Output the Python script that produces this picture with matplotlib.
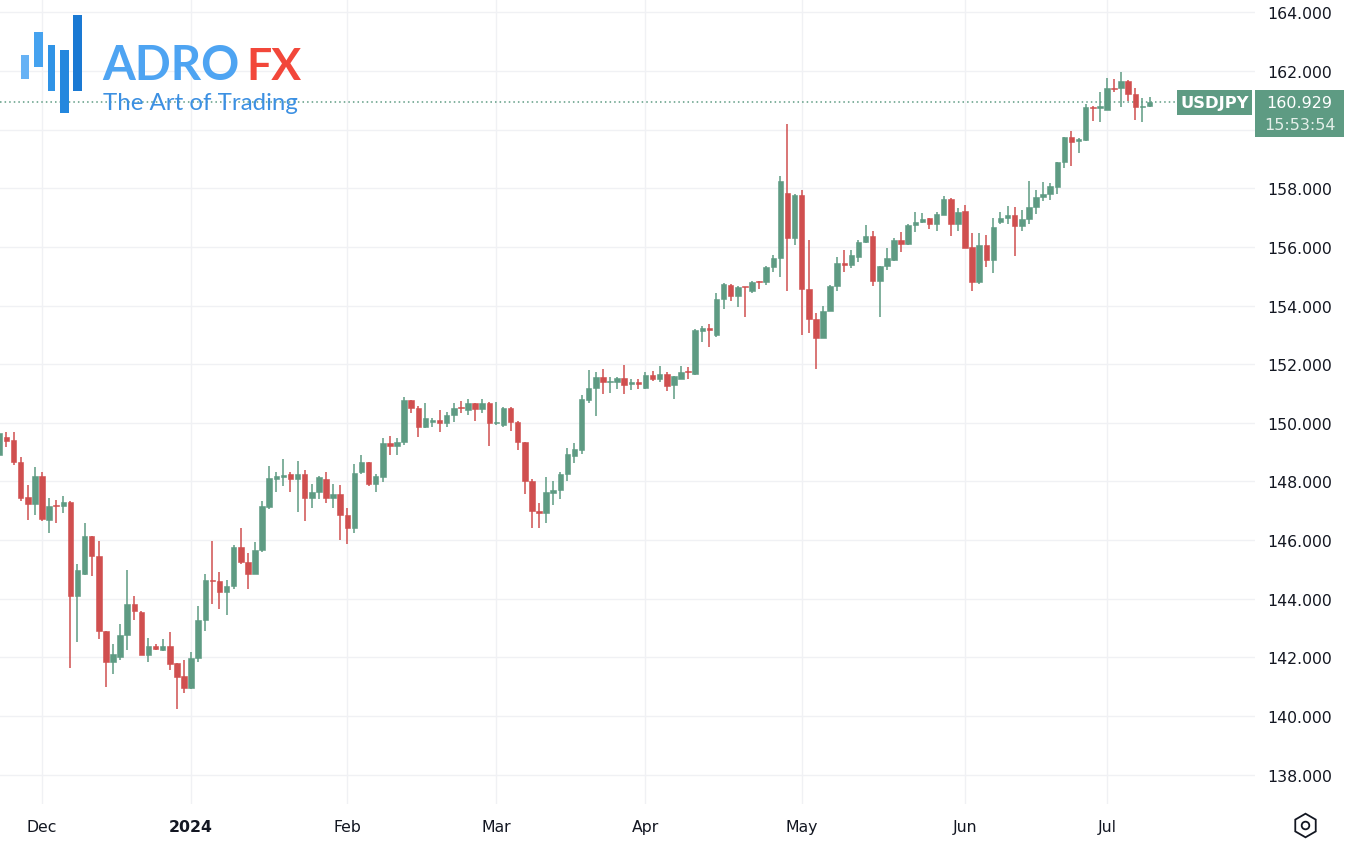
import numpy as np
import pandas as pd
import matplotlib
matplotlib.use("Agg")
import matplotlib.pyplot as plt
from matplotlib.patches import Rectangle
from matplotlib.transforms import blended_transform_factory

# ---------------- data (USDJPY daily) ----------------
dates = [d for d in pd.bdate_range("2023-11-23", "2024-07-09") if d != pd.Timestamp("2024-01-01")]

opens = [148.91, 149.53, 149.42, 148.66, 147.47, 147.23,
         148.17, 146.69, 147.20, 147.15, 147.30, 144.10, 144.85, 146.13, 145.47, 142.89, 141.83,
         142.03, 142.75, 143.82, 143.55, 142.09, 142.38, 142.26, 142.38, 141.81, 141.35,
         140.95, 141.98, 143.28, 144.63, 144.59, 144.23, 144.45, 145.75, 145.24, 144.85, 145.67,
         147.14, 148.10, 148.14, 148.24, 148.07, 148.27, 147.45, 147.63, 148.08, 147.45, 147.59,
         146.85, 146.40, 148.33, 148.65, 147.90, 148.16, 149.30, 149.22, 149.33, 150.77, 150.52,
         149.86, 150.03, 150.09, 150.00, 150.28, 150.55, 150.43, 150.66, 150.47, 150.66,
         149.98, 149.94, 150.52, 150.03, 149.33, 148.02, 147.00, 146.91, 147.60, 147.72, 148.27,
         148.88, 149.08, 150.78, 151.20, 151.58, 151.38, 151.38, 151.52, 151.32, 151.38,
         151.20, 151.63, 151.50, 151.67, 151.28, 151.50, 151.78, 151.67, 153.13, 153.23,
         152.98, 154.23, 154.70, 154.34, 154.65, 154.48, 154.84, 154.80, 155.31, 155.63,
         157.84, 156.30, 157.77, 154.57, 153.55, 152.89, 153.83, 154.66, 155.44, 155.39,
         155.65, 156.18, 156.36, 154.85, 155.36, 155.57, 156.22, 156.10, 156.75, 156.86,
         156.98, 156.78, 157.10, 157.64, 156.78, 157.24, 155.99, 154.82, 156.05, 155.57,
         156.86, 156.98, 157.09, 156.70, 156.95, 157.35, 157.69, 157.80, 158.06, 158.89,
         159.76, 159.60, 159.65, 160.78, 160.75, 160.67, 161.43, 161.41, 161.66, 161.22,
         160.76, 160.82]
highs = [149.70, 149.70, 149.68, 148.82, 147.89, 148.51,
         148.34, 147.43, 147.38, 147.49, 147.32, 145.19, 146.58, 146.15, 145.98, 142.90, 142.45,
         143.15, 144.97, 144.10, 143.57, 142.66, 142.45, 142.64, 142.86, 141.82, 141.91,
         142.20, 143.74, 144.85, 145.98, 144.90, 144.63, 145.82, 146.43, 145.56, 145.93, 147.32,
         148.53, 148.31, 148.78, 148.31, 148.69, 148.39, 147.93, 148.19, 148.31, 147.93, 147.88,
         147.10, 148.58, 148.90, 148.67, 148.27, 149.47, 149.56, 149.47, 150.89, 150.78, 150.58,
         150.66, 150.17, 150.43, 150.38, 150.66, 150.74, 150.83, 150.69, 150.83, 150.72,
         150.72, 150.55, 150.53, 150.05, 149.35, 148.08, 147.28, 148.14, 148.02, 148.33, 149.13,
         149.30, 150.94, 151.80, 151.72, 151.83, 151.58, 151.58, 151.97, 151.51, 151.51,
         151.74, 151.77, 151.93, 151.75, 151.61, 151.93, 151.89, 153.20, 153.30, 153.38,
         154.42, 154.77, 154.74, 154.68, 154.65, 154.85, 154.85, 155.36, 155.73, 158.41,
         160.20, 157.80, 157.95, 156.25, 153.75, 154.00, 154.70, 155.65, 155.91, 155.88,
         156.25, 156.75, 156.55, 155.36, 155.95, 156.30, 156.52, 156.78, 157.18, 157.15,
         156.98, 157.18, 157.72, 157.66, 157.32, 157.43, 156.48, 156.48, 156.41, 156.98,
         157.18, 157.39, 157.35, 157.27, 158.24, 157.95, 158.20, 158.17, 158.89, 159.76,
         159.95, 159.73, 160.86, 160.80, 161.30, 161.77, 161.73, 161.95, 161.68, 161.41,
         161.09, 161.13]
lows = [148.80, 149.19, 148.55, 147.32, 146.69, 146.86,
        146.66, 146.24, 146.58, 146.92, 141.64, 142.51, 144.80, 144.76, 142.64, 140.98, 141.43,
        141.90, 142.25, 143.29, 142.07, 141.86, 142.26, 142.23, 141.56, 140.25, 140.77,
        140.93, 141.86, 142.89, 143.83, 143.66, 143.43, 144.34, 145.20, 144.34, 144.83, 145.60,
        147.06, 147.65, 147.84, 147.63, 146.97, 146.65, 147.08, 147.40, 147.25, 147.11, 146.00,
        145.86, 146.23, 148.24, 147.86, 147.63, 147.97, 148.90, 148.92, 149.24, 150.35, 149.52,
        149.81, 149.86, 149.69, 149.86, 150.03, 150.32, 150.28, 150.07, 150.32, 149.22,
        149.94, 149.86, 149.72, 149.07, 147.56, 146.43, 146.43, 146.60, 147.19, 147.40, 148.02,
        148.63, 148.95, 150.69, 150.24, 150.98, 151.03, 151.17, 151.00, 151.13, 151.15,
        151.17, 151.43, 151.41, 151.08, 150.80, 151.50, 151.51, 151.64, 152.75, 152.58,
        152.94, 153.89, 154.14, 153.94, 153.60, 154.42, 154.55, 154.70, 155.16, 154.97,
        154.51, 156.05, 153.00, 153.07, 151.84, 152.89, 153.80, 154.51, 155.14, 155.27,
        155.50, 156.14, 154.68, 153.60, 155.23, 155.53, 155.84, 156.07, 156.50, 156.81,
        156.61, 156.56, 157.10, 156.36, 156.56, 155.95, 154.51, 154.74, 155.33, 155.10,
        156.78, 156.78, 155.70, 156.56, 156.78, 157.13, 157.55, 157.60, 157.80, 158.68,
        158.77, 159.19, 159.61, 160.30, 160.27, 160.67, 161.30, 160.78, 160.98, 160.33,
        160.27, 160.76]
closes = [149.65, 149.39, 148.66, 147.43, 147.23, 148.17,
          146.73, 147.18, 147.15, 147.30, 144.10, 144.97, 146.13, 145.47, 142.89, 141.83, 142.11,
          142.75, 143.82, 143.57, 142.09, 142.38, 142.30, 142.38, 141.78, 141.33, 140.95,
          141.98, 143.28, 144.63, 144.60, 144.23, 144.45, 145.75, 145.24, 144.85, 145.67, 147.18,
          148.13, 148.18, 148.22, 148.07, 148.27, 147.45, 147.63, 148.16, 147.45, 147.59, 146.85,
          146.40, 148.30, 148.65, 147.90, 148.18, 149.30, 149.22, 149.33, 150.77, 150.51, 149.86,
          150.17, 150.09, 150.00, 150.28, 150.52, 150.51, 150.66, 150.47, 150.66, 149.98,
          150.03, 150.52, 150.03, 149.33, 148.00, 147.00, 146.91, 147.63, 147.72, 148.27, 148.93,
          149.10, 150.81, 151.20, 151.58, 151.38, 151.43, 151.52, 151.30, 151.38, 151.32,
          151.63, 151.51, 151.67, 151.27, 151.59, 151.73, 151.73, 153.15, 153.23, 153.18,
          154.23, 154.72, 154.34, 154.63, 154.63, 154.82, 154.80, 155.31, 155.63, 158.26,
          156.30, 157.77, 154.57, 153.55, 152.89, 153.83, 154.68, 155.44, 155.39, 155.73,
          156.18, 156.36, 154.85, 155.36, 155.61, 156.22, 156.10, 156.75, 156.86, 156.95,
          156.78, 157.13, 157.64, 156.78, 157.20, 155.97, 154.82, 156.05, 155.57, 156.67,
          156.98, 157.09, 156.70, 156.95, 157.35, 157.69, 157.82, 158.08, 158.89, 159.76,
          159.59, 159.68, 160.78, 160.75, 160.82, 161.41, 161.39, 161.66, 161.22, 160.76,
          160.82, 160.929]

month_labels = ["Dec", "2024", "Feb", "Mar", "Apr", "May", "Jun", "Jul"]
month_starts = ["2023-12-01", "2024-01-02", "2024-02-01", "2024-03-01",
                "2024-04-01", "2024-05-01", "2024-06-03", "2024-07-01"]
price_ticks = [138, 140, 142, 144, 146, 148, 150, 152, 154, 156, 158, 160, 162, 164]
symbol = "USDJPY"
countdown = "15:53:54"

# ---------------- style ----------------
UP = "#5e9b83"
DOWN = "#d04f4f"
GRID = "#f0f1f4"
TXT = "#131722"

W, H = 1348, 854
fig = plt.figure(figsize=(W / 100, H / 100), dpi=100)
ax = fig.add_axes([0, 49 / H, 1255 / W, 805 / H])

o = np.array(opens); h = np.array(highs); l = np.array(lows); c = np.array(closes)
x = np.arange(len(dates))
up = c >= o
cols = np.where(up, UP, DOWN)

ax.vlines(x, l, h, colors=cols, linewidth=1.1, zorder=3)
body_bot = np.minimum(o, c)
body_h = np.maximum(np.abs(c - o), 0.035)
ax.bar(x, body_h, bottom=body_bot, width=0.78, color=cols, edgecolor=cols, linewidth=0.4, zorder=4)

date_index = {d.strftime("%Y-%m-%d"): i for i, d in enumerate(dates)}
xt = [date_index[m] for m in month_starts]

ax.set_xlim(0.085, 176.85)
ax.set_ylim(137.0, 164.456)
ax.set_xticks(xt)
ax.set_xticklabels(month_labels)
for lab in ax.get_xticklabels():
    if lab.get_text() == "2024":
        lab.set_fontweight("bold")
ax.set_yticks(price_ticks)
ax.set_yticklabels([("%.3f" % p) if p != 160 else "" for p in price_ticks])
ax.yaxis.tick_right()
ax.tick_params(axis="both", length=0, labelsize=11.3, labelcolor=TXT)
ax.tick_params(axis="x", pad=10.5)
ax.tick_params(axis="y", pad=9)
ax.grid(True, color=GRID, linewidth=1, zorder=0)
ax.set_axisbelow(True)
for s in ax.spines.values():
    s.set_visible(False)

# last price line and labels
last = closes[-1]
ax.axhline(last, xmin=0, xmax=0.94, color=UP, linestyle=(0, (1, 2)), linewidth=1.1, zorder=2)
bt = blended_transform_factory(ax.transAxes, ax.transData)
ax.add_patch(Rectangle((1.0, last - 1.18), 0.0709, 1.6, transform=bt, clip_on=False,
                       facecolor=UP, edgecolor="none", zorder=6))
ax.text(1.0355, last - 0.02, "%.3f" % last, transform=bt, ha="center", va="center",
        color="white", fontsize=11.5, zorder=7, clip_on=False)
ax.text(1.0355, last - 0.74, countdown, transform=bt, ha="center", va="center",
        color="#e4efe9", fontsize=11.5, zorder=7, clip_on=False)
ax.add_patch(Rectangle((0.938, last - 0.43), 0.0596, 0.85, transform=bt, clip_on=False,
                       facecolor=UP, edgecolor="none", zorder=6))
ax.text(0.968, last, symbol, transform=bt, ha="center", va="center",
        color="white", fontsize=11.8, fontweight="semibold", zorder=7, clip_on=False)

# overlay (logo and settings icon), pixel coordinates
ov = fig.add_axes([0, 0, 1, 1], facecolor="none")
ov.set_xlim(0, W)
ov.set_ylim(H, 0)
ov.axis("off")
bars = [(21, 29, 56, 80, "#66b2f5"), (34, 43, 33, 68, "#45a2ef"), (48, 55, 46, 92, "#2f93e6"),
        (60, 69, 51, 114, "#2487de"), (73, 82, 16, 92, "#1a79d3")]
for x0, x1, y0, y1, col in bars:
    ov.add_patch(Rectangle((x0, y0), x1 - x0, y1 - y0, facecolor=col, edgecolor="none"))
ov.text(102, 80, "ADRO", color="#4ea4f2", fontsize=34, fontweight="bold", family="Lato",
        ha="left", va="baseline")
ov.text(246, 80, "FX", color="#f2473a", fontsize=32, fontweight="bold", family="Lato",
        ha="left", va="baseline")
ov.text(103, 110, "The Art of Trading", color="#3c90e2", fontsize=17.3, family="Lato",
        ha="left", va="baseline")
ov.plot([1305], [826], marker="h", markersize=17, markerfacecolor="none",
        markeredgecolor=TXT, markeredgewidth=1.3)
ov.plot([1305], [826], marker="o", markersize=5.5, markerfacecolor="none",
        markeredgecolor=TXT, markeredgewidth=1.3)

fig.savefig("out.png", dpi=100, facecolor="white")
